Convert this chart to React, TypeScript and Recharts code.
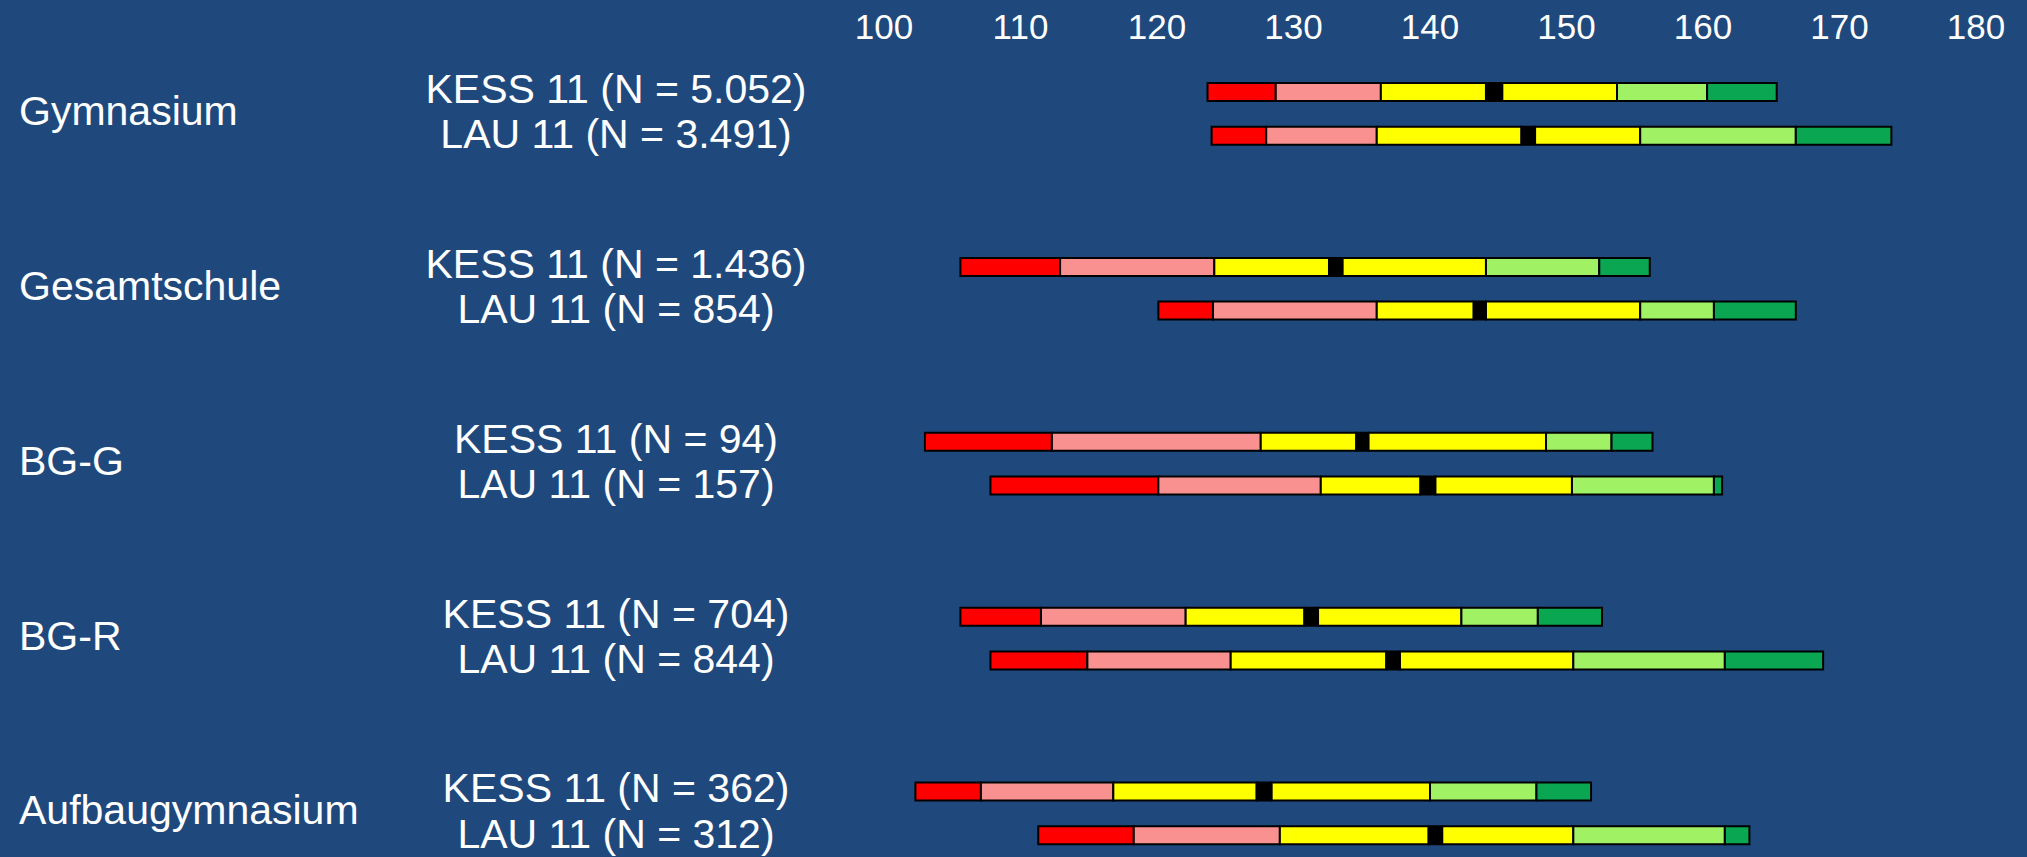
import { BarChart, Bar, XAxis, YAxis } from "recharts";

// school types and sample sizes
const groups = ["Gymnasium", "Gesamtschule", "BG-G", "BG-R", "Aufbaugymnasium"];
const kessN = ["5.052", "1.436", "94", "704", "362"];
const lauN = ["3.491", "854", "157", "844", "312"];

// band boundaries per row (start, red|pink, pink|yellow, median from, median to, yellow|lightgreen, lightgreen|green, end)
const kessBounds = [
  [123.7, 128.7, 136.4, 144.1, 145.3, 153.7, 160.3, 165.4],
  [105.6, 112.9, 124.2, 132.6, 133.6, 144.1, 152.4, 156.1],
  [103.0, 112.3, 127.6, 134.6, 135.5, 148.5, 153.3, 156.3],
  [105.6, 111.5, 122.1, 130.8, 131.8, 142.3, 147.9, 152.6],
  [102.3, 107.1, 116.8, 127.3, 128.4, 140.0, 147.8, 151.8],
];
const lauBounds = [
  [124.0, 128.0, 136.1, 146.7, 147.7, 155.4, 166.8, 173.8],
  [120.1, 124.1, 136.1, 143.2, 144.1, 155.4, 160.8, 166.8],
  [107.8, 120.1, 132.0, 139.3, 140.4, 150.4, 160.8, 161.4],
  [107.8, 114.9, 125.4, 136.8, 137.8, 150.5, 161.6, 168.8],
  [111.3, 118.3, 129.0, 139.9, 140.9, 150.5, 161.6, 163.4],
];

const xTicks = [100, 110, 120, 130, 140, 150, 160, 170, 180];

const SEG_COLORS = ["#ff0000", "#f99191", "#ffff00", "#000000", "#ffff00", "#a0f264", "#0ba651"];
const BG = "#1f497d";
const FONT = "'Liberation Sans', Arial, sans-serif";

interface Row {
  key: string;
  label?: string;
  group?: string;
  [seg: string]: string | number | undefined;
}

function toRow(key: string, bounds: number[], label: string, group?: string): Row {
  const row: Row = { key, label, group, offset: bounds[0] };
  for (let i = 1; i < bounds.length; i++) {
    row["s" + i] = +(bounds[i] - bounds[i - 1]).toFixed(2);
  }
  return row;
}

// two rows per school type, two empty rows as spacing
const data: Row[] = [];
groups.forEach((g, i) => {
  data.push(toRow(`k${i}`, kessBounds[i], `KESS 11 (N = ${kessN[i]})`, g));
  data.push(toRow(`l${i}`, lauBounds[i], `LAU 11 (N = ${lauN[i]})`));
  if (i < groups.length - 1) {
    data.push({ key: `a${i}` });
    data.push({ key: `b${i}` });
  }
});
const rowByKey = new Map(data.map((r) => [r.key, r]));

function XTick({ x, payload }: { x?: number; payload?: { value: number } }) {
  return (
    <text x={x} y={39} textAnchor="middle" fill="#fff" fontSize={35} fontFamily={FONT}>
      {payload?.value}
    </text>
  );
}

function YTick({ y, payload }: { y?: number; payload?: { value: string } }) {
  const row = rowByKey.get(payload?.value ?? "");
  if (!row || !row.label) return null;
  const cy = y ?? 0;
  const isKess = !!row.group;
  return (
    <g>
      <text x={616} y={cy + (isKess ? 11 : 12.5)} textAnchor="middle" fill="#fff" fontSize={41} fontFamily={FONT}>
        {row.label}
      </text>
      {row.group && (
        <text x={19} y={cy + 33} textAnchor="start" fill="#fff" fontSize={41} fontFamily={FONT}>
          {row.group}
        </text>
      )}
    </g>
  );
}

export default function App() {
  return (
    <div style={{ width: 2027, height: 857, background: BG }}>
      <style>{`body{margin:0;background:${BG}}`}</style>
      <BarChart
        width={2027}
        height={857}
        data={data}
        layout="vertical"
        margin={{ top: 0, right: 51, bottom: 0, left: 0 }}
        barSize={18}
      >
        <XAxis
          type="number"
          domain={[100, 180]}
          ticks={xTicks}
          orientation="top"
          height={70}
          axisLine={false}
          tickLine={false}
          tick={<XTick />}
          allowDataOverflow
        />
        <YAxis
          type="category"
          dataKey="key"
          width={884}
          axisLine={false}
          tickLine={false}
          interval={0}
          tick={<YTick />}
        />
        <Bar dataKey="offset" stackId="a" fill="transparent" stroke="none" isAnimationActive={false} />
        {SEG_COLORS.map((c, i) => (
          <Bar
            key={i}
            dataKey={"s" + (i + 1)}
            stackId="a"
            fill={c}
            stroke="#000"
            strokeWidth={2}
            isAnimationActive={false}
          />
        ))}
      </BarChart>
    </div>
  );
}
